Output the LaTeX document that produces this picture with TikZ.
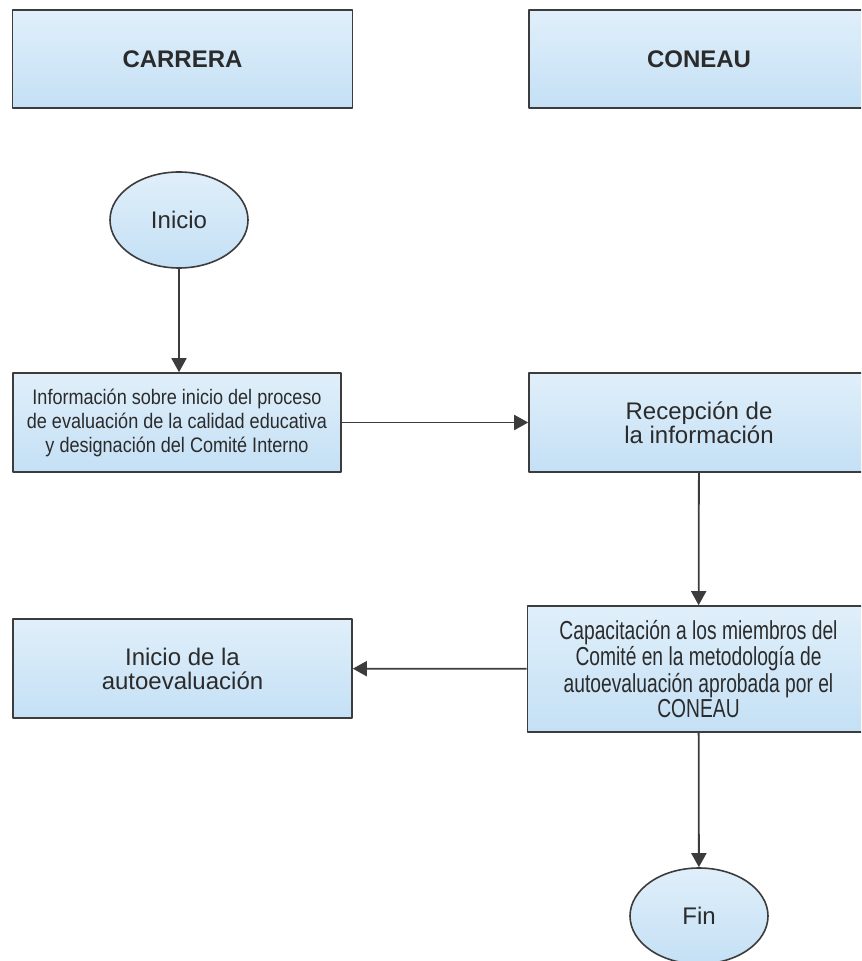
\documentclass[tikz,border=0pt]{standalone}
\usepackage{fontspec}
\setmainfont{Liberation Sans}
\newfontfamily\narrowfont{Liberation Sans}[FakeStretch=0.86]
\newfontfamily\tightfont{Liberation Sans}[FakeStretch=0.74]
\usetikzlibrary{arrows.meta,shapes.geometric}
\definecolor{boxtop}{HTML}{E0EFFA}
\definecolor{boxbot}{HTML}{C4E0F5}
\definecolor{edge}{HTML}{3C3C3C}
\definecolor{ink}{HTML}{2B2B2B}
\tikzset{
  lane/.style={draw=edge, line width=0.8pt, top color=boxtop, bottom color=boxbot,
    minimum width=170pt, minimum height=49pt, inner sep=2pt, align=center,
    text=ink, font=\fontsize{12}{12}\selectfont\bfseries},
  task/.style={draw=edge, line width=0.8pt, top color=boxtop, bottom color=boxbot,
    minimum width=170pt, minimum height=49.5pt, inner sep=2pt, align=center,
    text=ink, font=\fontsize{12}{12}\selectfont},
  term/.style={ellipse, draw=edge, line width=0.8pt, top color=boxtop, bottom color=boxbot,
    minimum width=69pt, minimum height=48pt, inner sep=0pt,
    text=ink, font=\fontsize{12}{12}\selectfont},
  flow/.style={draw=edge, line width=0.9pt, -{Triangle[length=7pt,width=7.5pt]}}
}
\begin{document}
\begin{tikzpicture}[x=0.5pt, y=-0.5pt, line join=round]
  \clip (0,0) rectangle (861,961);
  % lanes
  \node[lane] (carrera) at (182.5,59) {CARRERA};
  \node[lane] (coneau) at (699,59) {CONEAU};
  % steps
  \node[term] (inicio) at (179,220) {Inicio};
  \node[task, minimum width=164pt, font=\narrowfont\fontsize{10.5}{12}\selectfont]
    (info) at (177,422.5) {Información sobre inicio del proceso\\de evaluación de la calidad educativa\\y designación del Comité Interno};
  \node[task] (recep) at (699,422.5) {Recepción de\\la información};
  \node[task, minimum width=171pt, minimum height=63pt, font=\tightfont\fontsize{13}{11.5}\selectfont]
    (capac) at (698.5,669) {Capacitación a los miembros del\\Comité en la metodología de\\autoevaluación aprobada por el\\CONEAU};
  \node[task, minimum width=169.5pt] (autoev) at (182.5,668.5) {Inicio de la\\autoevaluación};
  \node[term] (fin) at (699,916) {Fin};
  % connectors
  \draw[flow] (inicio) -- (inicio |- info.north);
  \draw[flow] (info) -- (recep);
  \draw[flow] (recep) -- (capac);
  \draw[flow] (capac) -- (autoev);
  \draw[flow] (capac) -- (fin);
\end{tikzpicture}
\end{document}
